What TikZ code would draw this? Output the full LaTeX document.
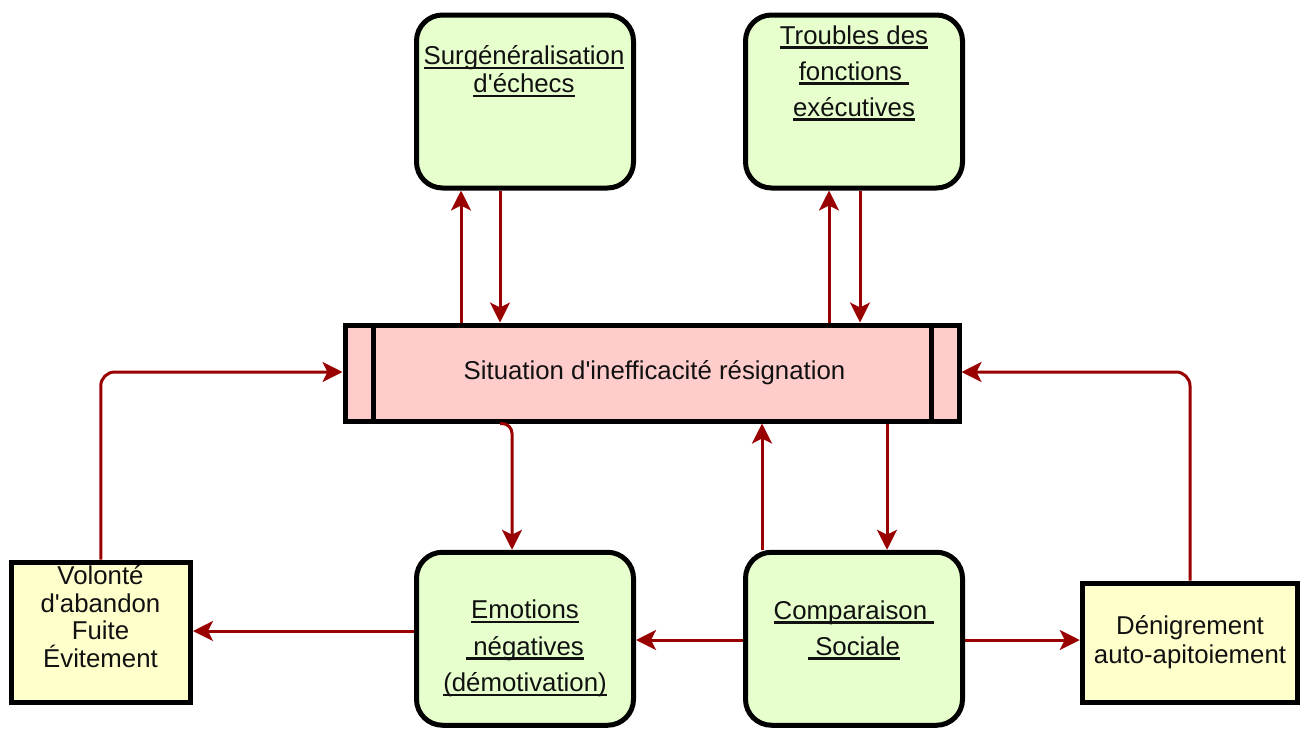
\documentclass[tikz,border=0pt]{standalone}
\usepackage{fontspec}
\setmainfont{Liberation Sans}
\usetikzlibrary{arrows.meta}
\definecolor{grn}{HTML}{E6FFCC}
\definecolor{pnk}{HTML}{FFCCCC}
\definecolor{ylw}{HTML}{FFFFCC}
\definecolor{arrred}{HTML}{990000}
\definecolor{txtc}{HTML}{111111}
\newcommand\ulx[1]{\setbox0\hbox{#1}\rlap{\rule[-4.5pt]{\wd0}{2.2pt}}\box0}
\newcommand\ap{\textquotesingle}
\begin{document}
\begin{tikzpicture}[x=1pt,y=-1pt,
  gbox/.style={draw=black, line width=5pt, fill=grn, rounded corners=26pt, minimum width=217pt, minimum height=173pt, inner sep=0pt},
  ybox/.style={draw=black, line width=5pt, fill=ylw, inner sep=0pt},
  cbox/.style={draw=black, line width=5pt, fill=pnk, minimum width=614pt, minimum height=96pt, inner sep=0pt},
  txt/.style={font=\fontsize{25.8}{29}\selectfont, text=txtc, align=center, inner sep=0pt},
  arr/.style={draw=arrred, line width=3pt, -{Stealth[length=20pt,width=20pt,inset=5pt]}},
]
\fill[white] (0,0) rectangle (1305,731);
\useasboundingbox (0,0) rectangle (1305,731);

% boxes
\node[gbox] (surg) at (525,101.5) {};
\node[gbox] (troub) at (854,101.5) {};
\node[cbox] (center) at (652,373) {};
\node[gbox] (emot) at (525,638.75) {};
\node[gbox] (comp) at (854,638.75) {};
\node[ybox, minimum width=179.5pt, minimum height=140pt] (volo) at (100.75,632) {};
\node[ybox, minimum width=215.5pt, minimum height=119pt] (deni) at (1190,642.5) {};

% inner lines of the centre box
\draw[line width=5pt] ([xshift=30.5pt]center.north west) -- ([xshift=30.5pt]center.south west);
\draw[line width=5pt] ([xshift=-30.5pt]center.north east) -- ([xshift=-30.5pt]center.south east);

% texts
\node[txt, font=\fontsize{25.8}{28}\selectfont] (surgT) at (524,71) {\ulx{Surgénéralisation}\\\ulx{d\ap échecs}};
\node[txt, font=\fontsize{25.8}{36}\selectfont] (troubT) at (854,73) {\ulx{Troubles des}\\\ulx{fonctions\ }\\\ulx{exécutives}};
\node[txt] (centerT) at (654.5,373) {Situation d\ap inefficacité résignation};
\node[txt, font=\fontsize{25.8}{36.5}\selectfont] (emotT) at (525,648.5) {\ulx{Emotions}\\\ulx{\ négatives}\\\ulx{(démotivation)}};
\node[txt, font=\fontsize{25.8}{36}\selectfont] (compT) at (854,630) {\ulx{Comparaison\ }\\\ulx{\ Sociale}};
\node[txt, font=\fontsize{25.8}{27.7}\selectfont] (voloT) at (100.5,616.5) {Volonté\\d\ap abandon\\Fuite\\Évitement};
\node[txt] (deniT) at (1190,642.5) {Dénigrement\\auto-apitoiement};

% connectors
\draw[arr] ([xshift=-191pt]center.north) -- ([xshift=-64pt]surg.south);
\draw[arr] ([xshift=-25pt]surg.south) -- ([xshift=-152pt]center.north);
\draw[arr] ([xshift=177pt]center.north) -- ([xshift=-25pt]troub.south);
\draw[arr] ([xshift=6pt]troub.south) -- ([xshift=208pt]center.north);
\draw[arr, rounded corners=10pt] ([xshift=-152pt]center.south) -| ([xshift=-13pt]emot.north);
\draw[arr] ([xshift=-92pt]comp.north) -- ([xshift=110pt]center.south);
\draw[arr] ([xshift=235pt]center.south) -- ([xshift=33pt]comp.north);
\draw[arr] ([yshift=7.75pt]emot.west) -- ([yshift=1pt]volo.east);
\draw[arr] ([yshift=-1.25pt]comp.west) -- ([yshift=-1.25pt]emot.east);
\draw[arr] ([yshift=-1.25pt]comp.east) -- ([yshift=2.5pt]deni.west);
\draw[arr, rounded corners=14pt] (volo.north) |- ([yshift=1pt]center.west);
\draw[arr, rounded corners=14pt] (deni.north) |- ([yshift=1pt]center.east);
\end{tikzpicture}
\end{document}
